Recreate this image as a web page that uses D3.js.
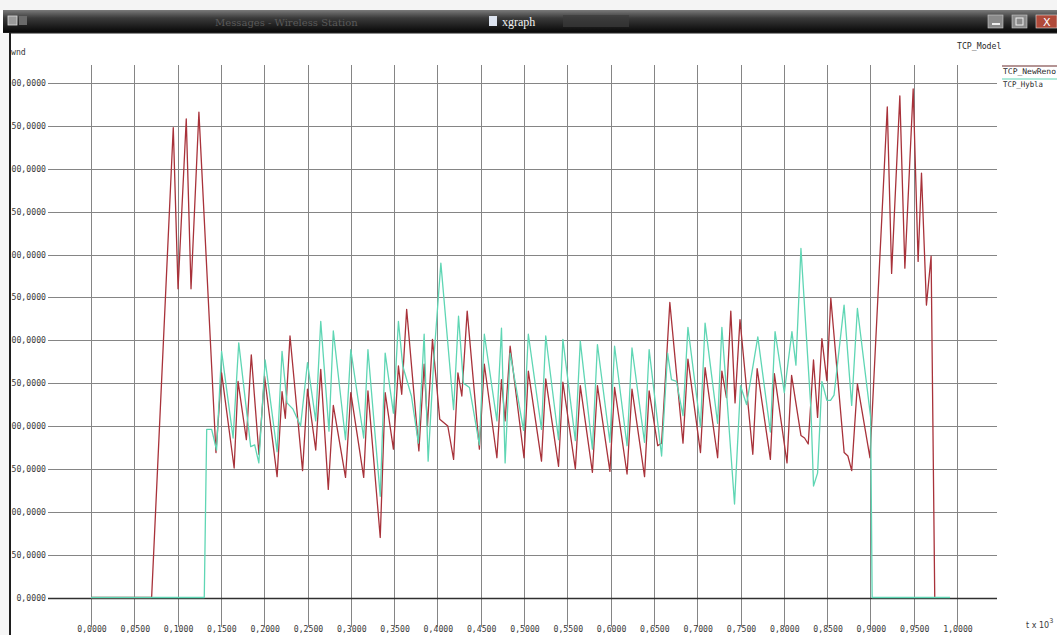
<!DOCTYPE html>
<html>
<head>
<meta charset="utf-8">
<script src="https://cdn.jsdelivr.net/npm/d3@7"></script>
<style>
  html, body { margin: 0; padding: 0; background: #ffffff; }
  svg { display: block; }
</style>
</head>
<body>
<svg id="chart" width="1057" height="635"></svg>
<script>
// ---- data ----
const xTicks = [0,0.05,0.1,0.15,0.2,0.25,0.3,0.35,0.4,0.45,0.5,0.55,0.6,0.65,0.7,0.75,0.8,0.85,0.9,0.95,1.0];
const yTicks = [0,50,100,150,200,250,300,350,400,450,500,550,600];

const renoT = [0,0.070,0.095,0.1005,0.110,0.1155,0.1246,0.1443,0.1508,0.1653,0.1698,0.1794,0.1851,0.1939,0.2004,0.2149,0.2206,0.2244,0.2298,0.2443,0.2500,0.2595,0.2653,0.2740,0.2798,0.2939,0.3000,0.3149,0.3198,0.3340,0.3397,0.3492,0.3550,0.3588,0.3645,0.3786,0.3847,0.3885,0.3943,0.4027,0.4120,0.4187,0.4237,0.4282,0.4344,0.4485,0.4542,0.4687,0.4740,0.4782,0.4840,0.5000,0.5050,0.5202,0.5251,0.5399,0.5449,0.5593,0.5650,0.5790,0.5848,0.5992,0.6046,0.6190,0.6247,0.6392,0.6445,0.6544,0.6589,0.6684,0.6836,0.6893,0.7038,0.7091,0.7236,0.7285,0.7338,0.7388,0.7437,0.7494,0.7642,0.7692,0.7845,0.7891,0.8037,0.8090,0.8198,0.8240,0.8282,0.8343,0.8390,0.8440,0.8497,0.8543,0.8697,0.8740,0.8784,0.8850,0.8995,0.9195,0.9245,0.9340,0.9398,0.9494,0.9551,0.9590,0.9647,0.9701,0.9743];
const renoW = [0,0,548,360,558,360,566,169,262,151,252,184,283,167,258,141,240,209,305,148,243,172,266,126,224,140,239,140,241,70,239,173,270,237,336,171,272,200,301,208,200,161,262,235,334,173,272,163,254,206,293,163,264,159,255,153,251,150,247,146,247,147,245,144,243,141,241,177,180,344,180,278,169,268,163,264,233,334,227,324,167,267,161,261,157,259,189,186,179,277,210,302,253,349,169,165,148,249,163,572,378,585,384,593,392,495,341,398,0];

const hyblaT = [0,0.1308,0.1336,0.1393,0.1450,0.1508,0.1641,0.1706,0.1844,0.1890,0.1938,0.2011,0.2149,0.2206,0.2263,0.2330,0.2420,0.2500,0.2595,0.2653,0.2748,0.2798,0.2939,0.3000,0.3149,0.3198,0.3340,0.3397,0.3492,0.3550,0.3600,0.3700,0.3780,0.3847,0.3893,0.3960,0.4040,0.4187,0.4244,0.4300,0.4370,0.4485,0.4542,0.4687,0.4740,0.4782,0.4840,0.4995,0.5050,0.5202,0.5251,0.5399,0.5449,0.5593,0.5650,0.5790,0.5848,0.5992,0.6046,0.6190,0.6247,0.6392,0.6445,0.6589,0.6658,0.6703,0.6760,0.6836,0.6893,0.7038,0.7091,0.7236,0.7285,0.7431,0.7500,0.7570,0.7700,0.7845,0.7899,0.8006,0.8094,0.8140,0.8198,0.8313,0.8343,0.8390,0.8440,0.8497,0.8540,0.8580,0.8696,0.8784,0.8850,0.9003,0.9020,0.9920];
const hyblaW = [0,0,196,196,172,287,186,297,176,178,157,277,170,287,227,220,200,274,206,322,194,311,184,289,186,289,118,285,215,322,270,235,180,307,159,280,390,219,328,250,245,178,307,206,314,157,285,195,307,196,305,184,301,183,299,173,295,181,293,177,291,181,289,165,285,254,252,212,315,199,320,203,315,109,247,225,304,193,310,239,310,271,407,220,130,145,252,230,230,236,341,224,337,210,0,0];

const seriesNames = ["TCP_NewReno", "TCP_Hybla"];
const seriesColors = ["#a8323a", "#5fd6b4"];

// ---- drawing ----
const svg = d3.select("#chart");
const W = 1057, H = 635;
const x = d3.scaleLinear().domain([0, 1]).range([91, 957]);
const y = d3.scaleLinear().domain([0, 600]).range([597.5, 83]);
const fmt = v => d3.format(".4f")(v).replace(".", ",");
const FONT = "'DejaVu Sans Mono', 'Liberation Mono', monospace";

svg.append("rect").attr("width", W).attr("height", H).attr("fill", "#ffffff");

// window title bar
const defs = svg.append("defs");
const g1 = defs.append("linearGradient").attr("id", "tb").attr("x1", 0).attr("y1", 0).attr("x2", 0).attr("y2", 1);
g1.append("stop").attr("offset", "0%").attr("stop-color", "#7a7a7a");
g1.append("stop").attr("offset", "35%").attr("stop-color", "#3a3a3a");
g1.append("stop").attr("offset", "100%").attr("stop-color", "#050505");
svg.append("rect").attr("x", 0).attr("y", 0).attr("width", W).attr("height", 10).attr("fill", "#f4f4f4");
svg.append("rect").attr("x", 3).attr("y", 10).attr("width", W - 3).attr("height", 23).attr("fill", "url(#tb)");
svg.append("rect").attr("x", 3).attr("y", 32).attr("width", W - 3).attr("height", 1.5).attr("fill", "#1a1a1a");
// left icons
svg.append("rect").attr("x", 8).attr("y", 16).attr("width", 9).attr("height", 9).attr("fill", "#9a9a9a").attr("stroke", "#ddd").attr("stroke-width", 0.8);
svg.append("rect").attr("x", 19).attr("y", 16).attr("width", 8).attr("height", 9).attr("fill", "#6a6a6a");
// faint background title text
svg.append("text").attr("x", 215).attr("y", 26).attr("font-family", "'DejaVu Serif', serif").attr("font-size", 10)
  .attr("fill", "#5a5a5a").text("Messages - Wireless Station");
// xgraph title
svg.append("rect").attr("x", 489).attr("y", 16).attr("width", 8).attr("height", 10).attr("fill", "#dde4f0");
svg.append("text").attr("x", 502).attr("y", 26).attr("font-family", "'Liberation Serif', 'DejaVu Serif', serif").attr("font-size", 12)
  .attr("fill", "#f2f2f2").text("xgraph");
svg.append("rect").attr("x", 563).attr("y", 15).attr("width", 66).attr("height", 12).attr("fill", "#3c3c3c").attr("opacity", 0.7);
// right buttons
svg.append("rect").attr("x", 988).attr("y", 15).attr("width", 15).attr("height", 13).attr("fill", "#8a8a8a").attr("stroke", "#ccc").attr("stroke-width", 0.6);
svg.append("rect").attr("x", 1012).attr("y", 15).attr("width", 15).attr("height", 13).attr("fill", "#8a8a8a").attr("stroke", "#ccc").attr("stroke-width", 0.6);
svg.append("rect").attr("x", 1036).attr("y", 15).attr("width", 21).attr("height", 13).attr("fill", "#b04a3a").attr("stroke", "#ddd").attr("stroke-width", 0.6);
svg.append("text").attr("x", 1043).attr("y", 26).attr("font-family", "'DejaVu Sans', sans-serif").attr("font-size", 11).attr("fill", "#fff").text("X");
svg.append("rect").attr("x", 992).attr("y", 23).attr("width", 8).attr("height", 2).attr("fill", "#eee");
svg.append("rect").attr("x", 1016).attr("y", 18).attr("width", 7).attr("height", 7).attr("fill", "none").attr("stroke", "#eee").attr("stroke-width", 1);

// window left border
svg.append("rect").attr("x", 0).attr("y", 33).attr("width", 9).attr("height", H - 33).attr("fill", "#f6f6f6");
svg.append("rect").attr("x", 9).attr("y", 33).attr("width", 2).attr("height", H - 33).attr("fill", "#1e1e1e");

// clip for content inside window
defs.append("clipPath").attr("id", "win").append("rect").attr("x", 11).attr("y", 34).attr("width", W - 11).attr("height", H - 34);
const plot = svg.append("g").attr("clip-path", "url(#win)");

// grid lines
plot.append("g").selectAll("line.v").data(xTicks).join("line")
  .attr("x1", d => Math.round(x(d)) + 0.5).attr("x2", d => Math.round(x(d)) + 0.5)
  .attr("y1", 65).attr("y2", 627)
  .attr("stroke", "#858585").attr("stroke-width", 1);
plot.append("g").selectAll("line.h").data(yTicks).join("line")
  .attr("x1", 48).attr("x2", 997)
  .attr("y1", d => Math.round(y(d)) + 0.5).attr("y2", d => Math.round(y(d)) + 0.5)
  .attr("stroke", d => d === 0 ? "#303030" : "#858585")
  .attr("stroke-width", d => d === 0 ? 1.6 : 1);

// tick labels
plot.append("g").selectAll("text").data(yTicks).join("text")
  .attr("x", 46).attr("y", d => y(d) + 3)
  .attr("text-anchor", "end").attr("font-family", FONT).attr("font-size", 8.2).attr("fill", "#3a3a3a")
  .text(d => fmt(d));
plot.append("g").selectAll("text").data(xTicks).join("text")
  .attr("x", d => x(d) + 1).attr("y", 632)
  .attr("text-anchor", "middle").attr("font-family", FONT).attr("font-size", 8.2).attr("fill", "#3a3a3a")
  .text(d => fmt(d));

// axis titles
plot.append("text").attr("x", 11).attr("y", 55).attr("font-family", FONT).attr("font-size", 8.2).attr("fill", "#3a3a3a").text("wnd");
const tx = svg.append("text").attr("x", 1026).attr("y", 628).attr("font-family", "'DejaVu Sans', sans-serif").attr("font-size", 8).attr("fill", "#3a3a3a");
tx.append("tspan").text("t x 10");
tx.append("tspan").attr("dy", -5).attr("font-size", 6.5).text("3");
plot.append("text").attr("x", 957).attr("y", 49).attr("font-family", FONT).attr("font-size", 8.2).attr("fill", "#2a2a2a").text("TCP_Model");

// series
const line = d3.line().x(d => x(d[0])).y(d => y(d[1]));
const series = [d3.zip(renoT, renoW), d3.zip(hyblaT, hyblaW)];
plot.append("path").datum(series[0]).attr("d", line).attr("fill", "none")
  .attr("stroke", seriesColors[0]).attr("stroke-width", 1.3).attr("stroke-linejoin", "round");
plot.append("path").datum(series[1]).attr("d", line).attr("fill", "none")
  .attr("stroke", seriesColors[1]).attr("stroke-width", 1.3).attr("stroke-linejoin", "round");

// legend
const legY = [66, 79];
seriesNames.forEach((n, i) => {
  plot.append("line").attr("x1", 1002).attr("x2", W).attr("y1", legY[i]).attr("y2", legY[i])
    .attr("stroke", i === 0 ? "#6a2a2a" : seriesColors[1]).attr("stroke-width", 1.2);
  plot.append("text").attr("x", 1003).attr("y", legY[i] + 8).attr("font-family", "'DejaVu Sans Mono', monospace")
    .attr("font-size", 7.8).attr("textLength", i === 0 ? 53 : 40).attr("lengthAdjust", "spacingAndGlyphs")
    .attr("fill", "#2a2a2a").text(n);
});
</script>
</body>
</html>
